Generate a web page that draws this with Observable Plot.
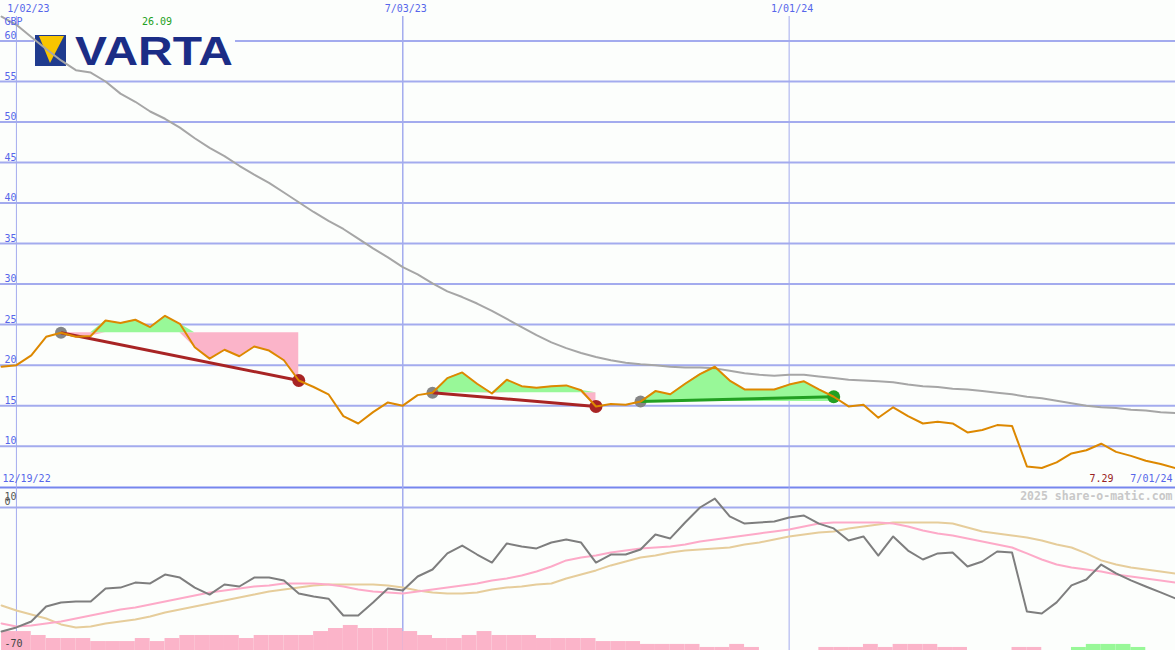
<!DOCTYPE html>
<html><head><meta charset="utf-8">
<script src="https://cdn.jsdelivr.net/npm/d3@7"></script>
<script src="https://cdn.jsdelivr.net/npm/@observablehq/plot@0.6"></script>
<style>
html,body{margin:0;padding:0;background:#fcfefc;}
#chart{position:relative;width:1175px;height:650px;overflow:hidden;background:#fcfefc;}
#chart > svg, #chart > figure{position:absolute;left:0;margin:0;}
#chart svg{overflow:visible;}
</style></head><body><div id="chart"></div>
<script>
// ---- data (weekly, starting 2022-12-26) ----
const startDay = Date.UTC(2022, 11, 26);
const price = [19.8,20.0,21.2,23.5,24.0,23.5,23.6,25.5,25.2,25.6,
 24.7,26.09,25.1,22.2,20.8,21.9,21.1,22.3,21.8,20.6,
 18.1,17.3,16.4,13.7,12.8,14.2,15.4,15.0,16.3,16.6,
 18.4,19.1,17.7,16.5,18.2,17.4,17.2,17.4,17.5,16.9,
 14.9,15.2,15.1,15.5,16.8,16.4,17.7,18.9,19.8,18.1,
 17.0,17.0,17.0,17.6,18.0,17.0,16.1,14.9,15.1,13.5,
 14.8,13.7,12.8,13.0,12.8,11.7,12.0,12.6,12.5,7.5,
 7.3,8.0,9.1,9.5,10.3,9.3,8.8,8.2,7.8,7.29];
const longMA = [63.0,62.0,60.5,59.0,57.6,56.4,56.1,55.0,53.5,52.5,
 51.3,50.4,49.3,48.0,46.8,45.8,44.6,43.5,42.5,41.3,
 40.1,38.9,37.8,36.8,35.6,34.4,33.3,32.1,31.2,30.1,
 29.1,28.4,27.6,26.7,25.7,24.7,23.7,22.8,22.1,21.5,
 21.0,20.6,20.3,20.1,20.0,19.8,19.7,19.7,19.6,19.3,
 19.0,18.8,18.7,18.8,18.8,18.6,18.4,18.2,18.1,18.0,
 17.9,17.6,17.4,17.3,17.1,17.0,16.8,16.6,16.4,16.1,
 15.9,15.6,15.3,15.0,14.8,14.7,14.5,14.4,14.2,14.1];
const momentum = [-59.4,-57.1,-53.8,-45.4,-43.1,-42.6,-42.6,-35.3,-34.8,-32.0,
 -32.5,-27.5,-29.2,-34.8,-38.7,-33.1,-34.2,-29.2,-29.2,-30.8,
 -38.1,-39.8,-41.0,-50.4,-50.4,-43.1,-35.3,-36.4,-28.6,-24.7,
 -15.7,-11.3,-16.3,-20.8,-10.1,-11.8,-12.9,-9.6,-7.9,-9.6,
 -20.8,-16.3,-16.3,-13.5,-5.1,-7.3,1.6,10.0,15.0,5.0,
 1.0,1.6,2.2,4.4,5.5,1.0,-1.7,-8.5,-6.2,-16.9,
 -6.2,-14.1,-19.1,-15.7,-15.2,-23.0,-20.2,-14.6,-15.2,-48.2,
 -49.3,-43.1,-33.6,-30.3,-21.9,-26.9,-30.8,-34.2,-37.5,-40.9];
const fastAvg = [-54.9,-56.6,-56.0,-54.9,-53.8,-52.1,-50.4,-48.7,-47.1,-45.9,
 -44.3,-42.6,-40.9,-39.2,-37.5,-36.4,-35.3,-34.2,-33.6,-32.5,
 -32.5,-32.5,-33.1,-34.2,-35.9,-37.0,-37.5,-38.1,-37.0,-35.9,
 -34.8,-33.6,-32.5,-30.8,-29.7,-28.0,-25.8,-23.0,-19.6,-18.0,
 -16.9,-15.2,-14.1,-12.9,-12.4,-11.8,-10.7,-9.0,-7.9,-6.8,
 -5.7,-4.5,-3.4,-2.3,-0.6,1.0,1.6,1.6,1.6,1.6,
 1.0,-0.6,-2.9,-4.5,-5.7,-7.3,-9.0,-10.7,-12.4,-15.7,
 -19.1,-21.9,-23.6,-24.7,-25.8,-27.5,-28.6,-29.7,-30.8,-32.0];
const slowAvg = [-44.8,-47.6,-49.9,-52.1,-55.4,-57.1,-56.6,-54.9,-53.8,-52.7,
 -51.0,-48.7,-47.1,-45.4,-43.7,-42.0,-40.3,-38.7,-37.0,-35.9,
 -34.8,-33.6,-33.1,-33.1,-33.1,-33.1,-33.6,-34.8,-36.4,-37.5,
 -38.1,-38.1,-37.5,-35.9,-34.8,-34.2,-33.1,-32.5,-29.7,-27.5,
 -25.2,-22.4,-20.2,-18.0,-16.9,-15.2,-14.1,-13.5,-12.9,-12.4,
 -10.7,-9.6,-7.9,-6.2,-5.1,-4.0,-3.4,-1.7,-0.6,0.5,
 1.6,1.6,1.6,1.6,1.0,-1.2,-3.4,-4.5,-5.7,-6.8,
 -8.5,-10.7,-12.4,-15.7,-19.6,-21.9,-23.6,-24.7,-25.8,-26.9];
const histogram = [-10.6,-10.6,-8.4,-6.7,-6.7,-6.7,-5.0,-5.0,-5.0,-6.7,
 -5.0,-6.7,-8.4,-8.4,-8.4,-8.4,-6.7,-8.4,-8.4,-8.4,
 -8.4,-10.6,-12.3,-14.0,-12.3,-12.3,-12.3,-10.6,-8.4,-6.7,
 -6.7,-8.4,-10.6,-8.4,-8.4,-8.4,-6.7,-6.7,-6.7,-6.7,
 -5.0,-5.0,-5.0,-3.4,-3.4,-3.4,-3.4,-1.7,-1.7,-3.4,
 -1.7,0,0,0,0,-1.7,-1.7,-1.7,-3.4,-1.7,
 -3.4,-3.4,-3.4,-1.7,-1.7,0,0,0,-1.7,-1.7,
 0,0,1.7,3.4,3.4,3.4,1.7,0,0,0];
const trades = [[4, 20], [29, 40], [43, 56]]; // [entry week, exit week]
const priceTicks = [10, 15, 20, 25, 30, 35, 40, 45, 50, 55, 60];
const dateTicks = ["2023-01-02", "2023-07-03", "2024-01-01"];
const dateTickLabels = ["1/02/23", "7/03/23", "1/01/24"];
const dateTickWidths = [1, 1.5, 1];
const currency = "GBP";
const startLabel = "12/19/22";
const endLabel = "7/01/24";
const lowerLabels = ["10", "0", "-70"];
const credit = "2025 share-o-matic.com";

// ---- derived rows ----
const WEEK = 7 * 864e5;
const dates = price.map((_, k) => new Date(startDay + k * WEEK));
const rows = price.map((p, k) => ({
  date: dates[k], next: new Date(startDay + (k + 1) * WEEK),
  price: p, ma: longMA[k], mom: momentum[k], fast: fastAvg[k], slow: slowAvg[k], hist: histogram[k]
}));
const tradeRows = trades.flatMap(([a, b], i) => d3.range(a, b + 1).map(k => ({
  trade: i, date: dates[k], price: price[k], level: price[a]
})));
const tradeInfo = trades.map(([a, b]) => ({
  d1: dates[a], p1: price[a], d2: dates[b], p2: price[b],
  color: price[b] > price[a] ? "#22a022" : "#a82424"
}));

const xDomain = [new Date(Date.UTC(2022, 11, 25, 12)), new Date(Date.UTC(2024, 6, 1))];
const mono = "DejaVu Sans Mono, monospace";
const blue = "#5666ea";
const gridColor = "#a3abee";
const T = {fontFamily: mono, fontSize: 10, lineAnchor: "middle"};

function logoMark() {
  const ns = "http://www.w3.org/2000/svg";
  const g = document.createElementNS(ns, "g");
  g.setAttribute("transform", "translate(35,35)");
  g.innerHTML =
    `<rect x="-1" y="-1" width="201" height="33" fill="#fcfefc"/>` +
    `<rect x="0" y="0" width="31" height="31" fill="#1f3b8e"/>` +
    `<polygon points="4,1 29,1 15,28" fill="#f8c500"/>` +
    `<text x="40" y="30" text-anchor="start" font-family="Liberation Sans, Arial, sans-serif" font-weight="bold" font-size="41" fill="#1b2d86" textLength="158" lengthAdjust="spacingAndGlyphs">VARTA</text>`;
  return g;
}

const upper = Plot.plot({
  width: 1175, height: 487,
  marginTop: 16, marginBottom: 0, marginLeft: 0, marginRight: 0,
  x: {type: "utc", domain: xDomain, axis: null},
  y: {domain: [4.9, 63.02], axis: null},
  color: {type: "identity"},
  style: {background: "transparent", overflow: "visible"},
  marks: [
    Plot.ruleY(priceTicks, {stroke: gridColor, strokeWidth: 2}),
    Plot.ruleY([4.9], {stroke: "#7686ee", strokeWidth: 2}),
    Plot.ruleX(dateTicks, {x: d => new Date(d), stroke: gridColor, strokeWidth: (d, i) => dateTickWidths[i]}),
    logoMark,
    Plot.areaY(tradeRows, {x: "date", y1: "level", y2: d => Math.min(d.price, d.level), z: "trade", fill: "#fbb4c9"}),
    Plot.areaY(tradeRows, {x: "date", y1: "level", y2: d => Math.max(d.price, d.level), z: "trade", fill: "#98f898"}),
    Plot.line(rows, {x: "date", y: "ma", stroke: "#a6a6a6", strokeWidth: 2}),
    Plot.dot(tradeInfo, {x: "d1", y: "p1", r: 6, fill: "#858585"}),
    Plot.dot(tradeInfo, {x: "d2", y: "p2", r: 6.5, fill: "color"}),
    Plot.link(tradeInfo, {x1: "d1", y1: "p1", x2: "d2", y2: "p2", stroke: "color", strokeWidth: 3}),
    Plot.line(rows, {x: "date", y: "price", stroke: "#dd8800", strokeWidth: 2}),
    Plot.text(priceTicks, {...T, y: d => d, frameAnchor: "left", dx: 4, dy: -5, text: d => String(d), textAnchor: "start", fill: blue}),
    Plot.text([currency], {...T, frameAnchor: "top-left", dx: 4, dy: 5, text: d => d, textAnchor: "start", fill: blue}),
    Plot.text(dateTicks.slice(0, 1), {...T, x: d => new Date(d), frameAnchor: "top", dy: -8, dx: 12, text: (d, i) => dateTickLabels[i], fill: blue}),
    Plot.text(dateTicks.slice(1), {...T, x: d => new Date(d), frameAnchor: "top", dy: -8, dx: 3, text: (d, i) => dateTickLabels[i + 1], fill: blue}),
    Plot.text([d3.maxIndex(price)], {...T, x: k => dates[k], frameAnchor: "top", dy: 5, dx: -8, text: k => price[k].toFixed(2), fill: "#22a022"}),
    Plot.text([startLabel], {...T, frameAnchor: "bottom-left", dx: 2, dy: -9, text: d => d, textAnchor: "start", fill: blue}),
    Plot.text([price[price.length - 1]], {...T, frameAnchor: "bottom-right", dx: -62, dy: -9, text: d => d.toFixed(2), textAnchor: "end", fill: "#992222"}),
    Plot.text([endLabel], {...T, frameAnchor: "bottom-right", dx: -3, dy: -9, text: d => d, textAnchor: "end", fill: blue})
  ]
});

const lower = Plot.plot({
  width: 1175, height: 163,
  marginTop: 20, marginBottom: 0, marginLeft: 0, marginRight: 0,
  x: {type: "utc", domain: xDomain, axis: null},
  y: {domain: [-70, 10], axis: null},
  color: {type: "identity"},
  style: {background: "transparent", overflow: "visible"},
  marks: [
    Plot.ruleY([10], {stroke: gridColor, strokeWidth: 2}),
    Plot.ruleX(dateTicks, {x: d => new Date(d), y1: -70, y2: 21.2, stroke: gridColor, strokeWidth: (d, i) => dateTickWidths[i]}),
    Plot.rectY(rows.filter(d => d.hist !== 0), {x1: "date", x2: "next", y1: -70, y2: d => -70 + Math.abs(d.hist), fill: d => d.hist > 0 ? "#98f898" : "#fbb4c9"}),
    Plot.line(rows, {x: "date", y: "slow", stroke: "#e6cd9b", strokeWidth: 2}),
    Plot.line(rows, {x: "date", y: "fast", stroke: "#fdaac8", strokeWidth: 2}),
    Plot.line(rows, {x: "date", y: "mom", stroke: "#7e7e7e", strokeWidth: 2}),
    Plot.text([lowerLabels[0]], {...T, frameAnchor: "top-left", dx: 4, dy: -11, text: d => d, textAnchor: "start", fill: "#555"}),
    Plot.text([lowerLabels[1]], {...T, frameAnchor: "top-left", dx: 4, dy: -6, text: d => d, textAnchor: "start", fill: "#555"}),
    Plot.text([lowerLabels[2]], {...T, frameAnchor: "bottom-left", dx: 4, dy: -7, text: d => d, textAnchor: "start", fill: "#444"}),
    Plot.text([credit], {...T, frameAnchor: "top-right", dx: -3, dy: -11, text: d => d, textAnchor: "end", fill: "#c8c8c8", fontWeight: "bold", fontSize: 11.5})
  ]
});

const chart = document.getElementById("chart");
upper.style.top = "0px";
lower.style.top = "487px";
chart.appendChild(upper);
chart.appendChild(lower);
</script>
</body></html>
